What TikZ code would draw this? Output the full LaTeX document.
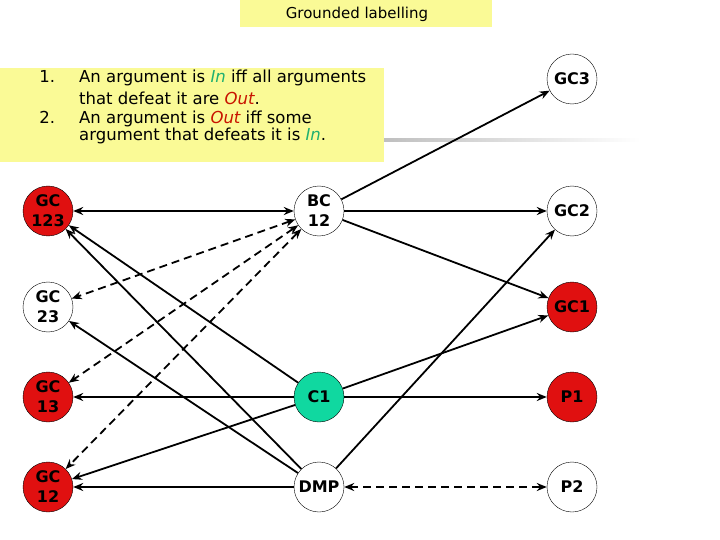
\documentclass[tikz,border=0pt]{standalone}
\usepackage{fontspec}
\setmainfont{DejaVu Sans}
\usetikzlibrary{arrows.meta}
\definecolor{boxy}{HTML}{FAFA96}
\definecolor{inred}{HTML}{E01010}
\definecolor{ingreen}{HTML}{10D8A0}
\definecolor{outred}{HTML}{C81400}
\definecolor{intxt}{HTML}{20B070}
\begin{document}
\begin{tikzpicture}[x=1pt,y=-1pt,
  arg/.style={circle,draw=black,thin,minimum size=50pt,inner sep=0pt,font=\fontsize{16}{20}\selectfont\bfseries,align=center},
  red/.style={arg,fill=inred},
  grn/.style={arg,fill=ingreen},
  att/.style={line width=1.8pt,-{Stealth[length=10pt,width=8pt]}},
  datt/.style={att,dashed,dash pattern=on 8pt off 5pt,{Stealth[length=10pt,width=8pt]}-{Stealth[length=10pt,width=8pt]}}]
\useasboundingbox (0,0) rectangle (720,540);
\fill[boxy] (240,0) rectangle (492,27);
\node (title) at (357,14) {\fontsize{15}{16}\selectfont Grounded labelling};
\shade[left color=gray!50,right color=white] (384,139) rectangle (640,142);
\fill[boxy] (0,68) rectangle (384,162);
\node[anchor=north west,inner sep=0pt,align=left,font=\fontsize{16.5}{22}\selectfont] (rules) at (34,70)
 {\makebox[45pt][l]{\ 1.}An argument is \textcolor{intxt}{\itshape In} iff all arguments\\
  \makebox[45pt][l]{}that defeat it are \textcolor{outred}{\itshape Out}.\\[-3pt]
  \makebox[45pt][l]{\ 2.}An argument is \textcolor{outred}{\itshape Out} iff some\\[-5pt]
  \makebox[45pt][l]{}argument that defeats it is \textcolor{intxt}{\itshape In}.};
\node[red] (gc123) at (48,211) {GC\\123};
\node[arg] (gc23) at (48,307) {GC\\23};
\node[red] (gc13) at (48,397) {GC\\13};
\node[red] (gc12) at (48,487) {GC\\12};
\node[arg] (bc12) at (319,211) {BC\\12};
\node[grn] (c1) at (319,397) {C1};
\node[arg] (dmp) at (319,487) {DMP};
\node[arg] (gc3) at (572,79) {GC3};
\node[arg] (gc2) at (572,211) {GC2};
\node[red] (gc1) at (572,307) {GC1};
\node[red] (p1) at (572,397) {P1};
\node[arg] (p2) at (572,487) {P2};
\draw[att,{Stealth[length=10pt,width=8pt]}-{Stealth[length=10pt,width=8pt]}] (gc123) -- (bc12);
\draw[att] (bc12) -- (gc3);
\draw[att] (bc12) -- (gc2);
\draw[att] (bc12) -- (gc1);
\draw[att] (c1) -- (gc1);
\draw[att] (c1) -- (p1);
\draw[att] (c1) -- (gc13);
\draw[att] (c1) -- (gc12);
\draw[att] (c1) -- (gc123);
\draw[att] (dmp) -- (gc12);
\draw[att] (dmp) -- (gc123);
\draw[att] (dmp) -- (gc23);
\draw[att] (dmp) -- (gc2);
\draw[datt] (bc12) -- (gc23);
\draw[datt] (bc12) -- (gc13);
\draw[datt] (bc12) -- (gc12);
\draw[datt] (dmp) -- (p2);
\end{tikzpicture}
\end{document}
